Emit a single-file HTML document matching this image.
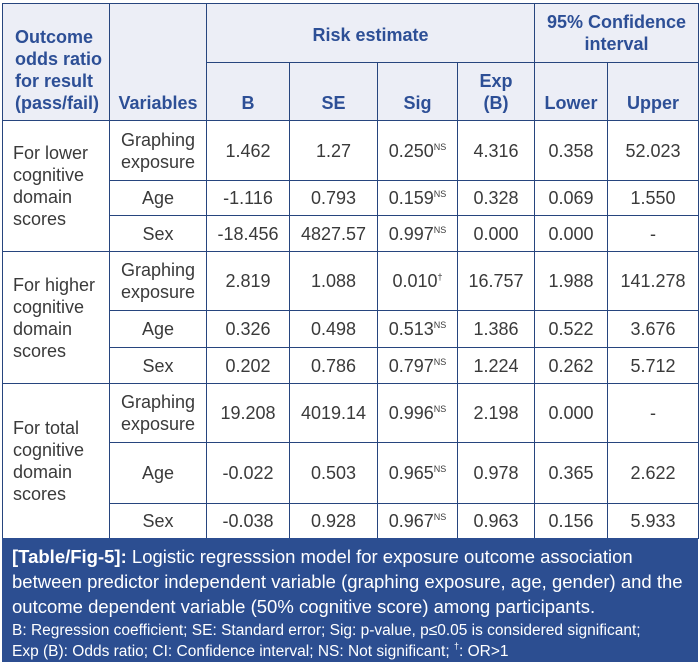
<!DOCTYPE html>
<html><head><meta charset="utf-8"><style>
body{margin:0;width:700px;height:666px;background:#fff;font-family:"Liberation Sans",Arial,sans-serif;position:relative;overflow:hidden}
table{position:absolute;left:2px;top:3px;border-collapse:collapse;table-layout:fixed;width:696px}
td{border:1.5px solid #27457e;text-align:center;vertical-align:middle;color:#3a3a3a;font-size:18px;line-height:22px;padding:0}
thead td{background:#eceef6;color:#2d4f96;font-size:18px;font-weight:bold;vertical-align:bottom;padding-bottom:6px}
td.l{text-align:left;padding-left:10px}
sup{font-size:9px;vertical-align:7px;line-height:0}
.cap{position:absolute;left:2px;top:538px;width:696px;height:124px;background:#2c4e91;color:#fff;box-sizing:border-box;padding:6px 10px}
.cap .a{font-size:18.5px;line-height:25px}
.cap .b{font-size:15.5px;line-height:21px;margin-top:1px}
</style></head><body>
<table>
<colgroup><col style="width:107px"><col style="width:97px"><col style="width:83px"><col style="width:88px"><col style="width:80px"><col style="width:77px"><col style="width:73px"><col style="width:91px"></colgroup>
<thead>
<tr style="height:59px"><td rowspan="2" class="l" style="text-align:left;padding-left:12px">Outcome odds ratio for result (pass/fail)</td><td rowspan="2">Variables</td><td colspan="4" style="vertical-align:middle;padding-bottom:0;padding-top:4px">Risk estimate</td><td colspan="2" style="vertical-align:middle;padding-bottom:0">95% Confidence interval</td></tr>
<tr style="height:58px"><td>B</td><td>SE</td><td>Sig</td><td>Exp<br>(B)</td><td>Lower</td><td>Upper</td></tr>
</thead>
<tbody>
<tr style="height:60px"><td rowspan="3" class="l">For lower cognitive domain scores</td><td>Graphing exposure</td><td>1.462</td><td>1.27</td><td>0.250<sup>NS</sup></td><td>4.316</td><td>0.358</td><td>52.023</td></tr>
<tr style="height:35px"><td>Age</td><td>-1.116</td><td>0.793</td><td>0.159<sup>NS</sup></td><td>0.328</td><td>0.069</td><td>1.550</td></tr>
<tr style="height:36px"><td>Sex</td><td>-18.456</td><td>4827.57</td><td>0.997<sup>NS</sup></td><td>0.000</td><td>0.000</td><td>-</td></tr>
<tr style="height:59px"><td rowspan="3" class="l">For higher cognitive domain scores</td><td>Graphing exposure</td><td>2.819</td><td>1.088</td><td>0.010<sup>†</sup></td><td>16.757</td><td>1.988</td><td>141.278</td></tr>
<tr style="height:37px"><td>Age</td><td>0.326</td><td>0.498</td><td>0.513<sup>NS</sup></td><td>1.386</td><td>0.522</td><td>3.676</td></tr>
<tr style="height:36px"><td>Sex</td><td>0.202</td><td>0.786</td><td>0.797<sup>NS</sup></td><td>1.224</td><td>0.262</td><td>5.712</td></tr>
<tr style="height:59px"><td rowspan="3" class="l">For total cognitive domain scores</td><td>Graphing exposure</td><td>19.208</td><td>4019.14</td><td>0.996<sup>NS</sup></td><td>2.198</td><td>0.000</td><td>-</td></tr>
<tr style="height:61px"><td>Age</td><td>-0.022</td><td>0.503</td><td>0.965<sup>NS</sup></td><td>0.978</td><td>0.365</td><td>2.622</td></tr>
<tr style="height:35px"><td>Sex</td><td>-0.038</td><td>0.928</td><td>0.967<sup>NS</sup></td><td>0.963</td><td>0.156</td><td>5.933</td></tr>
</tbody>
</table>
<div class="cap"><div class="a"><b>[Table/Fig-5]:</b> Logistic regresssion model for exposure outcome association<br>between predictor independent variable (graphing exposure, age, gender) and the<br>outcome dependent variable (50% cognitive score) among participants.</div>
<div class="b">B: Regression coefficient; SE: Standard error; Sig: p-value, p≤0.05 is considered significant;<br>Exp (B): Odds ratio; CI: Confidence interval; NS: Not significant; <sup>†</sup>: OR&gt;1</div></div>
</body></html>
